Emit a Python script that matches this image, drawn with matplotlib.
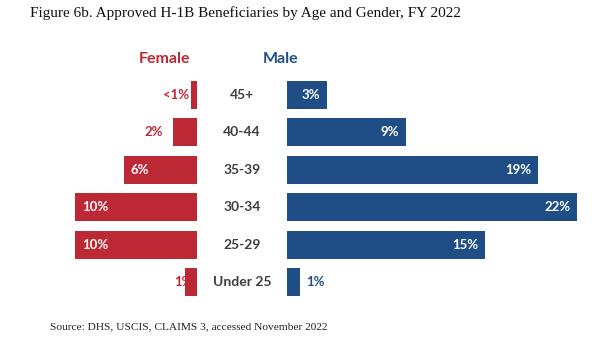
import matplotlib.pyplot as plt

# H-1B approvals FY 2022, share by age group (%)
ages = ['45+', '40-44', '35-39', '30-34', '25-29', 'Under 25']
female = [0.5, 2, 6, 10, 10, 1]
male = [3, 9, 19, 22, 15, 1]
female_labels = ['<1%', '2%', '6%', '10%', '10%', '1%']
male_labels = ['3%', '9%', '19%', '22%', '15%', '1%']

RED = '#BC2934'
BLUE = '#1F4E86'
GREY = '#3F3F3F'
W, H = 600, 348

fig = plt.figure(figsize=(W/100, H/100), dpi=100)

def px_axes(x0, x1, y0, y1):
    # axes placed by pixel box (y measured from top)
    return fig.add_axes([x0/W, 1 - y1/H, (x1-x0)/W, (y1-y0)/H])

top, bot = 76.3, 300.7
f_scale, m_scale = 12.2, 13.2
ax_f = px_axes(197 - 11.2*f_scale, 197, top, bot)
ax_m = px_axes(287, 287 + 23.0*m_scale, top, bot)
ax_f.set_xlim(11.2, 0)
ax_m.set_xlim(0, 23.0)

ypos = list(range(len(ages)))
for ax in (ax_f, ax_m):
    ax.set_ylim(len(ages) - 0.5, -0.5)
    ax.axis('off')

ax_f.barh(ypos, female, height=0.75, color=RED, zorder=2)
ax_m.barh(ypos, male, height=0.75, color=BLUE, zorder=2)

lab = dict(fontfamily='Lato', fontweight='bold', fontsize=9.5, va='center',
           textcoords='offset points')

# female labels: big bars get white text inside, small ones red text outside
for i, (v, t) in enumerate(zip(female, female_labels)):
    if v >= 5:
        ax_f.annotate(t, (v, i), xytext=(5, 0), ha='left', color='white', zorder=3, **lab)
    elif t == '1%':
        ax_f.annotate(t, (v, i), xytext=(6, 0), ha='right', color=RED, zorder=1, **lab)
    elif t == '<1%':
        ax_f.annotate(t, (v, i), xytext=(-1, 0), ha='right', color=RED, zorder=1, **lab)
    else:
        ax_f.annotate(t, (v, i), xytext=(-7, 0), ha='right', color=RED, zorder=1, **lab)

for i, (v, t) in enumerate(zip(male, male_labels)):
    if v >= 3:
        ax_m.annotate(t, (v, i), xytext=(-5, 0), ha='right', color='white', zorder=3, **lab)
    else:
        ax_m.annotate(t, (v, i), xytext=(4, 0), ha='left', color=BLUE, zorder=3, **lab)

# age group names in the gap between the two sides
for i, a in enumerate(ages):
    y = top + (i + 0.5) * (bot - top) / len(ages)
    fig.text(242/W, 1 - y/H, a, ha='center', va='center', color=GREY,
             fontfamily='Lato', fontweight='bold', fontsize=10)

fig.text(164/W, 1 - 59/H, 'Female', ha='center', va='center', color=RED,
         fontfamily='Lato', fontweight='bold', fontsize=11.5)
fig.text(281/W, 1 - 59/H, 'Male', ha='center', va='center', color=BLUE,
         fontfamily='Lato', fontweight='bold', fontsize=11.5)

fig.text(30/W, 1 - 13/H, 'Figure 6b. Approved H-1B Beneficiaries by Age and Gender, FY 2022',
         ha='left', va='center', color='#111111', fontfamily='Liberation Serif', fontsize=11)
fig.text(50/W, 1 - 327/H, 'Source: DHS, USCIS, CLAIMS 3, accessed November 2022',
         ha='left', va='center', color='#222222', fontfamily='Liberation Serif', fontsize=8.2)

fig.savefig('out.png', dpi=100)
